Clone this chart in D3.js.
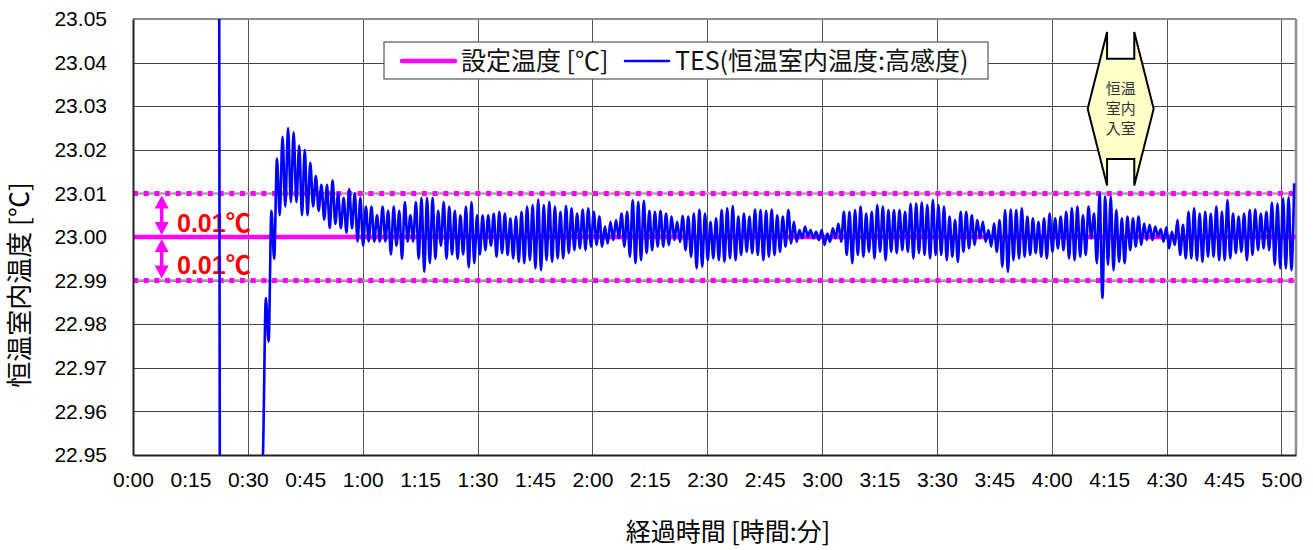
<!DOCTYPE html>
<html lang="ja">
<head>
<meta charset="UTF-8">
<title>恒温室内温度</title>
<script src="https://d3js.org/d3.v7.min.js"></script>
<style>
    body {
        margin: 0;
        background: #fff;
    }

    .axis text {
        font-family: "Liberation Sans", Arial, sans-serif;
        font-size: 21px;
        fill: #000;
    }

    .jp {
        font-family: "Noto Sans CJK JP", sans-serif;
    }
</style>
</head>
<body>
<div id="chart"></div>
<script>
    // axis ticks
    const yTicks = [22.95, 22.96, 22.97, 22.98, 22.99, 23.00, 23.01, 23.02, 23.03, 23.04, 23.05];
    const xTickMinutes = [0, 15, 30, 45, 60, 75, 90, 105, 120, 135, 150, 165, 180, 195, 210, 225, 240, 255, 270, 285, 300];
    const xGridMinutes = [30, 60, 90, 120, 150, 180, 210, 240, 270, 300];
    const xMaxMinutes = 303.8;

    // set point and the +/-0.01 band
    const setpoint = 23.00;
    const limitBand = [23.01, 22.99];

    const legendLabels = ["設定温度 [℃]", "TES(恒温室内温度:高感度)"];

    // start-up part of the TES record (minutes / degC), off scale
    const startupTimes = [0, 22.4, 22.8, 33.0];
    const startupValues = [23.10, 23.10, 22.90, 22.90];

    // TES record, one value every tesStepMin minutes from tesStartMin
    const tesStartMin = 33.25;
    const tesStepMin = 0.726;
    const tesValues = [
        22.940, 22.951, 22.986, 22.976, 23.006, 22.995, 23.018, 23.005, 23.023, 23.007,
        23.025, 23.008, 23.024, 23.008, 23.021, 23.005, 23.020, 23.005, 23.017, 23.007,
        23.014, 23.006, 23.012, 23.004, 23.012, 23.002, 23.013, 23.003, 23.010, 23.002,
        23.009, 23.001, 23.011, 23.002, 23.010, 22.999, 23.009, 22.998, 23.007, 22.999,
        23.007, 22.999, 23.005, 22.999, 23.007, 22.999, 23.006, 22.996, 23.007, 22.998,
        23.006, 22.995, 23.008, 22.999, 23.005, 22.999, 23.008, 22.995, 23.009, 22.992,
        23.009, 22.994, 23.009, 22.995, 23.006, 22.998, 23.008, 22.995, 23.007, 22.996,
        23.006, 22.995, 23.005, 22.996, 23.007, 22.993, 23.008, 22.994, 23.005, 22.996,
        23.005, 22.997, 23.005, 22.998,
        23.0054, 22.9955, 23.0058, 22.9963, 23.0054, 22.9959, 23.0043, 22.9951, 23.0047, 22.9943,
        23.0058, 22.9940, 23.0070, 22.9947, 23.0073, 22.9928, 23.0086, 22.9924, 23.0073, 22.9947,
        23.0081, 22.9943, 23.0070, 22.9951, 23.0058, 22.9951, 23.0071, 22.9963, 23.0066, 22.9970,
        23.0054, 22.9974, 23.0063, 22.9970, 23.0066, 22.9978, 23.0058, 22.9982, 23.0047, 22.9978,
        23.0024, 22.9985, 23.0035, 22.9993, 23.0039, 22.9997, 23.0054, 22.9978, 23.0058, 22.9955,
        23.0085, 22.9940, 23.0081, 22.9947, 23.0083, 22.9963, 23.0060, 22.9970, 23.0058, 22.9978,
        23.0060, 22.9978, 23.0054, 22.9982, 23.0047, 22.9993, 23.0035, 22.9989, 23.0048, 22.9970,
        23.0047, 22.9955, 23.0054, 22.9928, 23.0063, 22.9932, 23.0054, 22.9947, 23.0035, 22.9951,
        23.0043, 22.9947, 23.0062, 22.9943, 23.0066, 22.9951, 23.0071, 22.9947, 23.0047, 22.9959,
        23.0054, 22.9966, 23.0047, 22.9963, 23.0063, 22.9959, 23.0062, 22.9947, 23.0060, 22.9955,
        23.0063, 22.9959, 23.0050, 22.9966, 23.0047, 22.9978, 23.0062, 22.9985, 23.0035, 22.9989,
        23.0016, 22.9997, 23.0024, 23.0001, 23.0016, 22.9997, 23.0012, 22.9993, 23.0016, 22.9982,
        23.0008, 22.9989, 23.0020, 22.9997, 23.0031, 22.9989, 23.0058, 22.9959, 23.0058, 22.9940,
        23.0062, 22.9959, 23.0070, 22.9955, 23.0054, 22.9966, 23.0058, 22.9951, 23.0073, 22.9966,
        23.0070, 22.9947, 23.0062, 22.9966, 23.0062, 22.9963, 23.0062, 22.9970, 23.0058, 22.9966,
        23.0076, 22.9951, 23.0077, 22.9963, 23.0079, 22.9959, 23.0073, 22.9951, 23.0085, 22.9959,
        23.0073, 22.9959, 23.0070, 22.9947, 23.0047, 22.9955, 23.0039, 22.9943, 23.0058,
        22.9966, 23.0058, 22.9974, 23.0050, 22.9982, 23.0039, 22.9997, 23.0035, 22.9989, 23.0016,
        22.9978, 23.0031, 22.9966, 23.0039, 22.9932, 23.0062, 22.9920, 23.0063, 22.9947, 23.0062,
        22.9951, 23.0066, 22.9955, 23.0047, 22.9959, 23.0043, 22.9963, 23.0035, 22.9955, 23.0043,
        22.9951, 23.0054, 22.9966, 23.0043, 22.9974, 23.0047, 22.9970, 23.0058, 22.9951, 23.0066,
        22.9947, 23.0070, 22.9955, 23.0050, 22.9959, 23.0070, 22.9997, 23.0054, 22.9940, 23.0100,
        22.9860, 23.0093, 22.9936, 23.0093, 22.9924, 23.0062, 22.9943, 23.0043, 22.9940, 23.0047,
        22.9970, 23.0043, 22.9978, 23.0047, 22.9982, 23.0031, 22.9993, 23.0028, 22.9993, 23.0024,
        23.0001, 23.0018, 22.9989, 23.0022, 22.9974, 23.0012, 22.9982, 23.0039, 22.9959, 23.0028,
        22.9951, 23.0058, 22.9951, 23.0066, 22.9947, 23.0054, 22.9943, 23.0058, 22.9955, 23.0053,
        22.9955, 23.0070, 22.9947, 23.0058, 22.9947, 23.0085, 22.9951, 23.0054, 22.9963, 23.0047,
        22.9966, 23.0054, 22.9947, 23.0062, 22.9959, 23.0063, 22.9970, 23.0054, 22.9974, 23.0058,
        22.9970, 23.0079, 22.9936, 23.0077, 22.9928, 23.0089, 22.9928, 23.0091, 22.9924, 23.0123
    ];

    // callouts (data coordinates)
    const bandArrowTime = 7.5;
    const bandLabelTime = 11.5;
    const bandLabel = "0.01℃";
    const noteTime = 258;
    const noteTop = 23.047;
    const noteBottom = 23.0118;
    const noteLines = ["恒温", "室内", "入室"];

    const margin = { top: 19, right: 17, bottom: 95, left: 133 };
    const width = 1313 - margin.left - margin.right;
    const height = 550 - margin.top - margin.bottom;

    const magenta = "#ff00ff";
    const blue = "#0000ff";

    const svg = d3.select("#chart")
        .append("svg")
        .attr("width", 1313)
        .attr("height", 550);

    const chart = svg.append("g")
        .attr("transform", `translate(${margin.left},${margin.top})`);

    const x = d3.scaleLinear().domain([0, xMaxMinutes]).range([0, width]);
    const y = d3.scaleLinear().domain([22.95, 23.05]).range([height, 0]);

    const fmtTime = m => `${Math.floor(m / 60)}:${String(m % 60).padStart(2, "0")}`;

    // grid
    chart.append("g")
        .selectAll("line")
        .data(yTicks.slice(1, -1))
        .join("line")
        .attr("x1", 0).attr("x2", width)
        .attr("y1", d => Math.round(y(d)) + 0.5).attr("y2", d => Math.round(y(d)) + 0.5)
        .attr("stroke", "#444").attr("stroke-width", 1);

    chart.append("g")
        .selectAll("line")
        .data(xGridMinutes)
        .join("line")
        .attr("x1", d => Math.round(x(d)) + 0.5).attr("x2", d => Math.round(x(d)) + 0.5)
        .attr("y1", 0).attr("y2", height)
        .attr("stroke", "#555").attr("stroke-width", 1);

    // frame: grey top/right, dark left/bottom
    chart.append("line").attr("x1", 0).attr("x2", width).attr("y1", 0).attr("y2", 0)
        .attr("stroke", "#8c8c8c").attr("stroke-width", 2);
    chart.append("line").attr("x1", width).attr("x2", width).attr("y1", 0).attr("y2", height)
        .attr("stroke", "#8c8c8c").attr("stroke-width", 2.5);

    // limit band (dotted magenta on grey)
    limitBand.forEach(v => {
        chart.append("line")
            .attr("x1", 0).attr("x2", width)
            .attr("y1", y(v)).attr("y2", y(v))
            .attr("stroke", "#a6a6a6").attr("stroke-width", 2.5);
        chart.append("line")
            .attr("x1", 0).attr("x2", width)
            .attr("y1", y(v)).attr("y2", y(v))
            .attr("stroke", magenta).attr("stroke-width", 5)
            .attr("stroke-dasharray", "5 5.7");
    });

    // set point
    chart.append("line")
        .attr("x1", 0).attr("x2", width)
        .attr("y1", y(setpoint)).attr("y2", y(setpoint))
        .attr("stroke", magenta).attr("stroke-width", 4.5);

    // band arrows and labels
    const ax = x(bandArrowTime);
    const arrows = chart.append("g").attr("fill", magenta).attr("stroke", magenta);
    [[limitBand[0], setpoint], [setpoint, limitBand[1]]].forEach(([hi, lo]) => {
        const y0 = y(hi) + 2, y1 = y(lo) - 2;
        arrows.append("line")
            .attr("x1", ax).attr("x2", ax).attr("y1", y0 + 8).attr("y2", y1 - 8)
            .attr("stroke-width", 3.5);
        arrows.append("path")
            .attr("stroke", "none")
            .attr("d", `M${ax},${y0}L${ax - 7},${y0 + 13}L${ax + 7},${y0 + 13}Z`);
        arrows.append("path")
            .attr("stroke", "none")
            .attr("d", `M${ax},${y1}L${ax - 7},${y1 - 13}L${ax + 7},${y1 - 13}Z`);
    });

    [y(setpoint) - 5, y(limitBand[1]) - 6.5].forEach(ty => {
        chart.append("text")
            .attr("x", x(bandLabelTime))
            .attr("y", ty)
            .attr("fill", "#ff0000")
            .attr("font-family", "'Liberation Sans', 'Noto Sans CJK JP', sans-serif")
            .attr("font-weight", "bold")
            .attr("font-size", 25)
            .text(bandLabel);
    });

    // TES line
    chart.append("clipPath").attr("id", "plot-clip")
        .append("rect").attr("width", width).attr("height", height);

    const tesSeries = startupTimes.map((t, i) => ({ t, v: startupValues[i] }))
        .concat(tesValues.map((v, i) => ({ t: tesStartMin + i * tesStepMin, v })));

    const lineGenerator = d3.line()
        .x(d => x(d.t))
        .y(d => y(d.v))
        .curve(d3.curveMonotoneX);

    chart.append("path")
        .datum(tesSeries)
        .attr("clip-path", "url(#plot-clip)")
        .attr("d", lineGenerator)
        .attr("fill", "none")
        .attr("stroke", blue)
        .attr("stroke-width", 2.6)
        .attr("stroke-linejoin", "round");

    // axes
    chart.append("g")
        .attr("class", "axis")
        .attr("transform", `translate(0,${height})`)
        .call(d3.axisBottom(x).tickValues(xTickMinutes).tickFormat(fmtTime).tickSize(0).tickPadding(17))
        .call(g => g.select(".domain").attr("stroke", "#222").attr("stroke-width", 2));

    chart.append("g")
        .attr("class", "axis")
        .call(d3.axisLeft(y).tickValues(yTicks).tickFormat(d => d.toFixed(2)).tickSize(0).tickPadding(26))
        .call(g => g.select(".domain").attr("stroke", "#222").attr("stroke-width", 2));

    // axis titles
    svg.append("text")
        .attr("class", "jp")
        .attr("x", 728)
        .attr("y", 541)
        .attr("text-anchor", "middle")
        .attr("font-size", 25)
        .text("経過時間 [時間:分]");

    svg.append("text")
        .attr("class", "jp")
        .attr("transform", "translate(29,285) rotate(-90)")
        .attr("text-anchor", "middle")
        .attr("font-size", 26)
        .text("恒温室内温度 [℃]");

    // legend
    const legend = svg.append("g").attr("transform", "translate(384,42)");
    legend.append("rect")
        .attr("width", 604).attr("height", 37)
        .attr("fill", "#fff").attr("stroke", "#555").attr("stroke-width", 1.2);

    const legendItems = [
        { label: legendLabels[0], color: magenta, w: 4.5, x0: 18, x1: 71 },
        { label: legendLabels[1], color: blue, w: 2.5, x0: 241, x1: 285 }
    ];
    legendItems.forEach(item => {
        legend.append("line")
            .attr("x1", item.x0).attr("x2", item.x1)
            .attr("y1", 19).attr("y2", 19)
            .attr("stroke", item.color).attr("stroke-width", item.w)
            .attr("stroke-linecap", "round");
        legend.append("text")
            .attr("class", "jp")
            .attr("x", item.x1 + 6)
            .attr("y", 28)
            .attr("font-size", 25)
            .attr("fill", "#111")
            .text(item.label);
    });

    // callout: entry into the room
    const noteX = x(noteTime), noteY0 = y(noteTop), noteY1 = y(noteBottom), noteMid = (noteY0 + noteY1) / 2;
    const nw = 13.6, ow = 33, nd = 26.6;
    const note = svg.append("g").attr("transform", `translate(${margin.left},${margin.top})`);
    note.append("path")
        .attr("d", `M${noteX - nw},${noteY0}L${noteX - ow},${noteMid}L${noteX - nw},${noteY1}L${noteX - nw},${noteY1 - nd}` +
            `L${noteX + nw},${noteY1 - nd}L${noteX + nw},${noteY1}L${noteX + ow},${noteMid}L${noteX + nw},${noteY0}` +
            `L${noteX + nw},${noteY0 + nd}L${noteX - nw},${noteY0 + nd}Z`)
        .attr("fill", "#ffffc8")
        .attr("stroke", "#000")
        .attr("stroke-width", 2)
        .attr("stroke-linejoin", "miter");

    noteLines.forEach((t, i) => {
        note.append("text")
            .attr("class", "jp")
            .attr("x", noteX)
            .attr("y", noteMid + (i - 1) * 20 + 5.5)
            .attr("text-anchor", "middle")
            .attr("font-size", 15)
            .attr("fill", "#333")
            .text(t);
    });
</script>
</body>
</html>
